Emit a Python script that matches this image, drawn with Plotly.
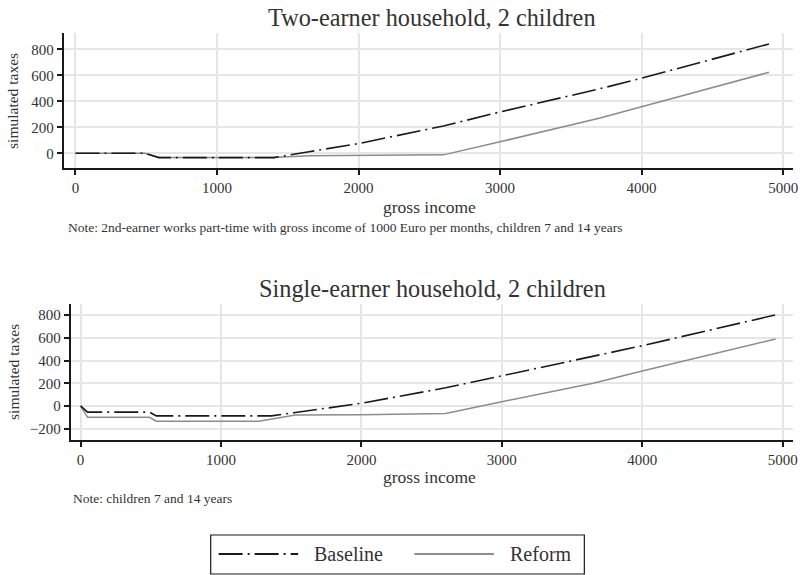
import plotly.graph_objects as go

# ---------------- data ----------------
series_names = ["Baseline", "Reform"]

two_income = [0, 490, 590, 1400, 1650, 2000, 2600, 3000, 3700, 4000, 4900]
two_baseline = [0, 0, -33, -33, 12, 75, 210, 318, 495, 577, 841]
two_reform = [0, 0, -33, -33, -18, -16, -12, 89, 269, 358, 623]

single_income = [0, 50, 490, 540, 1270, 1360, 1530, 2000, 2600, 3000, 3650, 4000, 4950]
single_baseline = [0, -54, -54, -87, -87, -87, -58, 24, 160, 265, 437, 531, 803]
single_reform = [0, -100, -100, -134, -134, -114, -80, -77, -66, 38, 200, 308, 590]

x_ticks = [0, 1000, 2000, 3000, 4000, 5000]
y_ticks_top = [0, 200, 400, 600, 800]
y_ticks_bottom = [-200, 0, 200, 400, 600, 800]

titles = ["Two-earner household, 2 children", "Single-earner household, 2 children"]
notes = ["Note: 2nd-earner works part-time with gross income of 1000 Euro per months, children 7 and 14 years",
         "Note: children 7 and 14 years"]
x_title = "gross income"
y_title = "simulated taxes"

# ---------------- style ----------------
W, H = 804, 575
FONT = "Liberation Serif"
TXT = "#333333"
BASE_COLOR = "#1a1a1a"
REF_COLOR = "#8c8c8c"
DASH = "24px,5px,2px,5px"
GRID = "#e6e6e6"


def px(x):
    return x / W


def py(y):
    return 1 - y / H


fig = go.Figure()

# top panel
fig.add_trace(go.Scatter(x=two_income, y=two_reform, mode="lines", name=series_names[1],
                         line=dict(color=REF_COLOR, width=1.5), xaxis="x", yaxis="y", showlegend=False))
fig.add_trace(go.Scatter(x=two_income, y=two_baseline, mode="lines", name=series_names[0],
                         line=dict(color=BASE_COLOR, width=1.6, dash=DASH), xaxis="x", yaxis="y", showlegend=False))
# bottom panel
fig.add_trace(go.Scatter(x=single_income, y=single_reform, mode="lines", name=series_names[1],
                         line=dict(color=REF_COLOR, width=1.5), xaxis="x2", yaxis="y2", showlegend=False))
fig.add_trace(go.Scatter(x=single_income, y=single_baseline, mode="lines", name=series_names[0],
                         line=dict(color=BASE_COLOR, width=1.6, dash=DASH), xaxis="x2", yaxis="y2", showlegend=False))

axis_common = dict(showline=True, linecolor="#1a1a1a", linewidth=1.8, ticks="outside", ticklen=5,
                   tickwidth=1.5, tickcolor="#1a1a1a", showgrid=True, gridcolor=GRID, gridwidth=1.5,
                   zeroline=False, tickfont=dict(family=FONT, size=15, color=TXT))

fig.update_layout(
    width=W, height=H, margin=dict(l=0, r=0, t=0, b=0),
    paper_bgcolor="white", plot_bgcolor="white",
    font=dict(family=FONT, color=TXT),
    xaxis=dict(domain=[px(64), px(798)], range=[-84, 5070], tickvals=x_ticks, anchor="y", **axis_common),
    yaxis=dict(domain=[py(168), py(33)], range=[-113, 925], tickvals=y_ticks_top, anchor="x", **axis_common),
    xaxis2=dict(domain=[px(71), px(798)], range=[-71, 5074], tickvals=x_ticks, anchor="y2", **axis_common),
    yaxis2=dict(domain=[py(440), py(304)], range=[-300, 899], tickvals=y_ticks_bottom, anchor="x2", **axis_common),
)


def ann(text, x, y, size, xanchor="center", angle=0):
    return dict(text=text, x=px(x), y=py(y), xref="paper", yref="paper", xanchor=xanchor, yanchor="middle",
                showarrow=False, textangle=angle, font=dict(family=FONT, size=size, color=TXT))


annotations = [
    ann(titles[0], 435, 17, 24.3),
    ann(titles[1], 435, 288, 24.3),
    ann(x_title, 432, 207, 17.5),
    ann(x_title, 432, 477, 17.5),
    ann(y_title, 13, 101, 15.5, angle=-90),
    ann(y_title, 13, 372, 15.5, angle=-90),
    ann(notes[0], 66, 227, 13.5, xanchor="left"),
    ann(notes[1], 71, 498, 13.5, xanchor="left"),
    # legend labels
    ann(series_names[0], 314, 554, 20, xanchor="left"),
    ann(series_names[1], 511, 554, 20, xanchor="left"),
]

shapes = [
    dict(type="rect", xref="paper", yref="paper", x0=px(212), x1=px(588), y0=py(574), y1=py(535),
         line=dict(color="#1a1a1a", width=1.2), fillcolor="rgba(0,0,0,0)"),
    dict(type="line", xref="paper", yref="paper", x0=px(220), x1=px(300), y0=py(554), y1=py(554),
         line=dict(color=BASE_COLOR, width=1.8, dash=DASH)),
    dict(type="line", xref="paper", yref="paper", x0=px(417), x1=px(497), y0=py(554), y1=py(554),
         line=dict(color=REF_COLOR, width=1.8)),
]

fig.update_layout(annotations=annotations, shapes=shapes)

fig.write_html("out.html", config={"displayModeBar": False},
               post_script="document.body.style.margin='0';document.body.style.overflow='hidden';")
